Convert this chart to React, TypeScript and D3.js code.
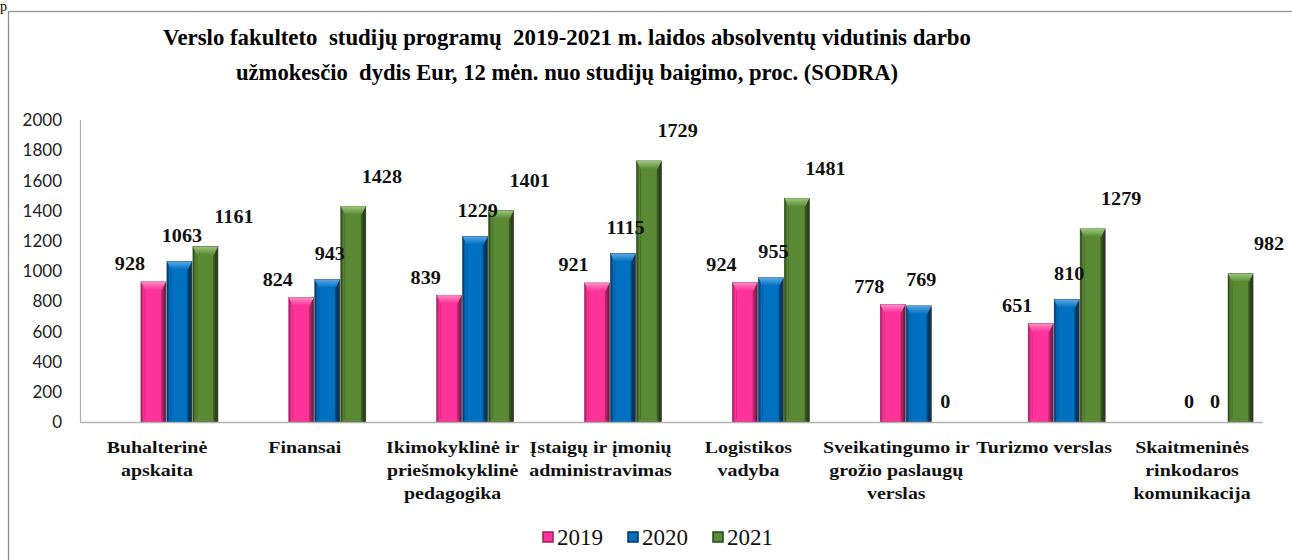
import React from "react";
import * as d3 from "d3";

// Chart data
const categories = [
  ["Buhalterinė", "apskaita"],
  ["Finansai"],
  ["Ikimokyklinė ir", "priešmokyklinė", "pedagogika"],
  ["Įstaigų ir įmonių", "administravimas"],
  ["Logistikos", "vadyba"],
  ["Sveikatingumo ir", "grožio paslaugų", "verslas"],
  ["Turizmo verslas"],
  ["Skaitmeninės", "rinkodaros", "komunikacija"],
];
const seriesNames = ["2019", "2020", "2021"];
const values2019 = [928, 824, 839, 921, 924, 778, 651, 0];
const values2020 = [1063, 943, 1229, 1115, 955, 769, 810, 0];
const values2021 = [1161, 1428, 1401, 1729, 1481, 0, 1279, 982];
const yTicks = [0, 200, 400, 600, 800, 1000, 1200, 1400, 1600, 1800, 2000];
const titleLines = [
  "Verslo fakulteto  studijų programų  2019-2021 m. laidos absolventų vidutinis darbo",
  "užmokesčio  dydis Eur, 12 mėn. nuo studijų baigimo, proc. (SODRA)",
];

const W = 1292;
const H = 560;
const margin = { left: 80, right: 29, top: 120, bottom: 138 };

// colours: dark edge, face, light top
const palette = [
  { dark: "#9c1d5c", mid: "#ff3399", light: "#ff8cc6" },
  { dark: "#00335f", mid: "#0070c0", light: "#5aa8e6" },
  { dark: "#2a4417", mid: "#5a8a36", light: "#9cc77a" },
];
// where each series puts its value label, relative to bar top centre
const labelShift = [
  { dx: -24, dy: -18 },
  { dx: 2, dy: -26 },
  { dx: 28, dy: -30 },
];

export default function App() {
  const series = [values2019, values2020, values2021];
  const keys = categories.map((c) => c.join(" "));

  const x = d3.scaleBand().domain(keys).range([margin.left, W - margin.right]);
  const barW = 26;
  const x1 = d3
    .scaleBand()
    .domain(seriesNames)
    .range([0, barW * seriesNames.length]);
  const y = d3
    .scaleLinear()
    .domain([0, 2000])
    .range([H - margin.bottom, margin.top]);

  const base = y(0);
  const serif = "'Liberation Serif', 'Times New Roman', serif";

  return (
    <svg
      width={W}
      height={H}
      style={{ position: "absolute", left: 0, top: 0, background: "#fff" }}
    >
      <defs>
        {palette.map((p, i) => (
          <React.Fragment key={i}>
            <linearGradient id={`face${i}`} x1="0" x2="1" y1="0" y2="0">
              <stop offset="0" stopColor={p.dark} />
              <stop offset="0.12" stopColor={p.mid} />
              <stop offset="0.78" stopColor={p.mid} />
              <stop offset="0.9" stopColor={p.dark} />
              <stop offset="1" stopColor="#111" stopOpacity={0.85} />
            </linearGradient>
            <linearGradient id={`top${i}`} x1="0" x2="0" y1="0" y2="1">
              <stop offset="0" stopColor={p.light} />
              <stop offset="1" stopColor={p.mid} />
            </linearGradient>
          </React.Fragment>
        ))}
      </defs>

      {/* stray glyph from the page above */}
      <text x={0} y={11} fontFamily={serif} fontSize={14}>
        p
      </text>

      {/* chart frame */}
      <rect
        x={8.5}
        y={11.5}
        width={W}
        height={H}
        fill="none"
        stroke="#8c8c8c"
        strokeWidth={1.2}
      />

      {/* title */}
      {titleLines.map((t, i) => (
        <text
          key={i}
          x={567}
          y={45 + i * 35}
          textAnchor="middle"
          fontFamily={serif}
          fontWeight="bold"
          fontSize={23}
          textLength={i === 0 ? 808 : 662}
          lengthAdjust="spacingAndGlyphs"
          style={{ whiteSpace: "pre" }}
        >
          {t}
        </text>
      ))}

      {/* y axis */}
      <line
        x1={margin.left + 0.5}
        x2={margin.left + 0.5}
        y1={y(2000)}
        y2={base}
        stroke="#b3b3b3"
        strokeWidth={1.2}
      />
      {yTicks.map((t) => (
        <text
          key={t}
          x={62}
          y={y(t)}
          dy="0.36em"
          textAnchor="end"
          fontFamily="Lato, 'Open Sans', sans-serif"
          fontSize={17}
          fill="#222"
        >
          {t}
        </text>
      ))}

      {/* bars */}
      {keys.map((k, ci) => {
        const c = (x(k) as number) + x.bandwidth() / 2 - barW / 2;
        return (
          <g key={k}>
            {series.map((vals, si) => {
              const v = vals[ci];
              if (!v) return null;
              const bx = c + (x1(seriesNames[si]) as number);
              const by = y(v);
              const bh = base - by;
              const bev = 4;
              return (
                <g key={si}>
                  <rect
                    x={bx}
                    y={by}
                    width={barW - 1}
                    height={bh}
                    fill={`url(#face${si})`}
                    stroke={palette[si].dark}
                    strokeWidth={0.6}
                  />
                  <polygon
                    points={[
                      [bx, by],
                      [bx + barW - 1, by],
                      [bx + barW - 1 - bev, by + 8],
                      [bx + bev, by + 8],
                    ]
                      .map((p) => p.join(","))
                      .join(" ")}
                    fill={`url(#top${si})`}
                  />
                  <line
                    x1={bx + bev}
                    x2={bx + bev}
                    y1={by + 8}
                    y2={base - 3}
                    stroke={palette[si].dark}
                    strokeOpacity={0.35}
                  />
                  <line
                    x1={bx + barW - 1 - bev}
                    x2={bx + barW - 1 - bev}
                    y1={by + 8}
                    y2={base - 3}
                    stroke={palette[si].dark}
                    strokeOpacity={0.5}
                  />
                </g>
              );
            })}
          </g>
        );
      })}

      {/* x axis baseline */}
      <line
        x1={margin.left}
        x2={W - margin.right}
        y1={base + 0.5}
        y2={base + 0.5}
        stroke="#b3b3b3"
        strokeWidth={1.5}
      />

      {/* value labels */}
      {keys.map((k, ci) => {
        const c = (x(k) as number) + x.bandwidth() / 2 - barW / 2;
        return series.map((vals, si) => {
          const v = vals[ci];
          const cx = c + (x1(seriesNames[si]) as number) + barW / 2;
          const lx = v ? cx + labelShift[si].dx : cx;
          const ly = v ? y(v) + labelShift[si].dy : base - 20;
          return (
            <text
              key={`${k}-${si}`}
              transform={`translate(${lx},${ly}) scale(1.12,1)`}
              dy="0.35em"
              textAnchor="middle"
              fontFamily={serif}
              fontWeight="bold"
              fontSize={18}
              fill="#111"
            >
              {v}
            </text>
          );
        });
      })}

      {/* category labels */}
      {keys.map((k, ci) => (
        <text
          key={k}
          transform={`translate(${(x(k) as number) + x.bandwidth() / 2 + 3},0) scale(1.17,1)`}
          textAnchor="middle"
          fontFamily={serif}
          fontWeight="bold"
          fontSize={17}
          fill="#111"
        >
          {categories[ci].map((line, li) => (
            <tspan key={li} x={0} y={453 + li * 23}>
              {line}
            </tspan>
          ))}
        </text>
      ))}

      {/* legend */}
      {seriesNames.map((s, i) => {
        const lx = 543 + i * 85;
        return (
          <g key={s}>
            <rect
              x={lx}
              y={532}
              width={10}
              height={10}
              fill={palette[i].mid}
              stroke={palette[i].dark}
              strokeWidth={1.5}
            />
            <text
              x={lx + 14}
              y={537}
              dy="0.35em"
              fontFamily="'Liberation Serif', 'DejaVu Serif', serif"
              fontWeight="normal"
              fontSize={23}
              fill="#111"
            >
              {s}
            </text>
          </g>
        );
      })}
    </svg>
  );
}
